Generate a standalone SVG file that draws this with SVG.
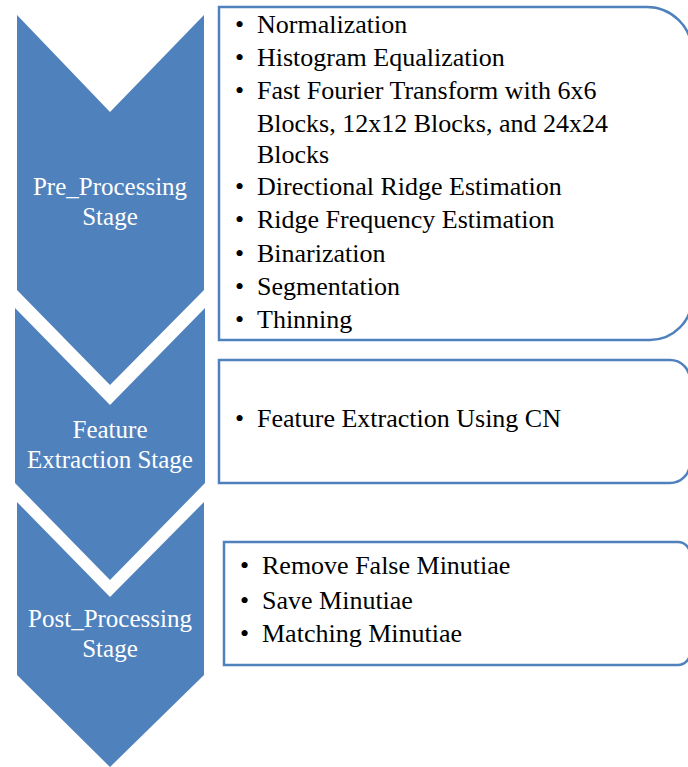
<svg xmlns="http://www.w3.org/2000/svg" width="688" height="767" viewBox="0 0 688 767">
<style>
.chev{fill:#4F81BD;}
.ctext{font-size:25px;fill:#FFFFFF;text-anchor:middle;}
.box{fill:#FFFFFF;stroke:#4F81BD;stroke-width:2.5;}
.btext{font-size:26px;fill:#000000;}
.serif{font-family:"Liberation Serif","Times New Roman",Times,Tinos,"Nimbus Roman","Nimbus Roman No9 L",FreeSerif,"Noto Serif","DejaVu Serif",Georgia,serif;}
</style>
<rect x="0" y="0" width="688" height="767" fill="#FFFFFF"/>
<g class="serif">
<g id="stage1">
<polygon class="chev" points="17,15 110,112 204,15 204,290 110,385 17,290"/>
<text class="ctext" x="110" y="195">Pre_Processing</text>
<text class="ctext" x="110" y="225">Stage</text>
</g>
<g id="stage2">
<polygon class="chev" points="15,308 110,405 205,308 205,483 110,580 15,483"/>
<text class="ctext" x="110" y="438">Feature</text>
<text class="ctext" x="110" y="468">Extraction Stage</text>
</g>
<g id="stage3">
<polygon class="chev" points="17,502 110,597 204,502 204,675 110,767 17,675"/>
<text class="ctext" x="110" y="627">Post_Processing</text>
<text class="ctext" x="110" y="657">Stage</text>
</g>
<g id="box1">
<path class="box" d="M219,7 H647 A45,45 0 0 1 692,52 V298 A42,42 0 0 1 650,340 H219 Z"/>
<g class="btext">
<text x="235" y="33">•</text><text x="257" y="33">Normalization</text>
<text x="235" y="66">•</text><text x="257" y="66">Histogram Equalization</text>
<text x="235" y="99">•</text><text x="257" y="99">Fast Fourier Transform with 6x6</text>
<text x="257" y="132">Blocks, 12x12 Blocks, and 24x24</text>
<text x="257" y="163">Blocks</text>
<text x="235" y="195">•</text><text x="257" y="195">Directional Ridge Estimation</text>
<text x="235" y="228">•</text><text x="257" y="228">Ridge Frequency Estimation</text>
<text x="235" y="262">•</text><text x="257" y="262">Binarization</text>
<text x="235" y="295">•</text><text x="257" y="295">Segmentation</text>
<text x="235" y="328">•</text><text x="257" y="328">Thinning</text>
</g>
</g>
<g id="box2">
<path class="box" d="M219,360 H670 A20,20 0 0 1 690,380 V463 A20,20 0 0 1 670,483 H219 Z"/>
<g class="btext">
<text x="235" y="427">•</text><text x="257" y="427">Feature Extraction Using CN</text>
</g>
</g>
<g id="box3">
<path class="box" d="M224,542 H678 A12,12 0 0 1 690,554 V653 A12,12 0 0 1 678,665 H224 Z"/>
<g class="btext">
<text x="240" y="574">•</text><text x="262" y="574">Remove False Minutiae</text>
<text x="240" y="609">•</text><text x="262" y="609">Save Minutiae</text>
<text x="240" y="642">•</text><text x="262" y="642">Matching Minutiae</text>
</g>
</g>
</g>
<g id="connectors"></g>
</svg>
